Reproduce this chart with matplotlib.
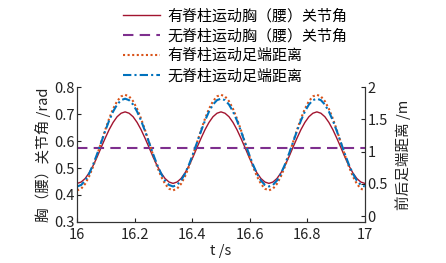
import numpy as np
import matplotlib
matplotlib.use("Agg")
import matplotlib.pyplot as plt

plt.rcParams['font.family'] = ['Noto Sans CJK SC', 'DejaVu Sans']

# time samples (s), 24 per gait period of 1/3 s
t = np.linspace(16, 17, 73)

# left axis: trunk (waist) joint angle, rad -- one period
angle_spine_period = [0.443, 0.448, 0.461, 0.482, 0.509, 0.541, 0.576, 0.610, 0.642, 0.669, 0.690, 0.703,
                      0.708, 0.703, 0.690, 0.669, 0.642, 0.610, 0.576, 0.541, 0.509, 0.482, 0.461, 0.448]
angle_spine = angle_spine_period * 3 + [0.443]
angle_nospine = [0.575] * 73

# right axis: front-rear foot distance, m
dist_spine_period = [0.40, 0.425, 0.50, 0.617, 0.77, 0.948, 1.14, 1.332, 1.51, 1.663, 1.781, 1.855,
                     1.88, 1.855, 1.781, 1.663, 1.51, 1.332, 1.14, 0.948, 0.77, 0.617, 0.50, 0.425]
dist_spine = dist_spine_period * 3 + [0.40]
dist_nospine_period = [0.46, 0.483, 0.551, 0.659, 0.80, 0.964, 1.14, 1.316, 1.48, 1.621, 1.729, 1.797,
                       1.82, 1.797, 1.729, 1.621, 1.48, 1.316, 1.14, 0.964, 0.80, 0.659, 0.551, 0.483]
dist_nospine = dist_nospine_period * 3 + [0.46]

labels = ['有脊柱运动胸（腰）关节角', '无脊柱运动胸（腰）关节角',
          '有脊柱运动足端距离', '无脊柱运动足端距离']

fig = plt.figure(figsize=(4.46, 2.63), dpi=100)
ax = fig.add_axes([0.173, 0.156, 0.645, 0.513])
ax2 = ax.twinx()

l1, = ax.plot(t, angle_spine, color='#A2142F', lw=1.0, label=labels[0])
l2, = ax.plot(t, angle_nospine, color='#7E2F8E', lw=1.5, ls=(0, (5, 3)), label=labels[1])
l3, = ax2.plot(t, dist_spine, color='#D95319', lw=1.5, ls=(0, (1, 1.2)), label=labels[2])
l4, = ax2.plot(t, dist_nospine, color='#0072BD', lw=1.5, ls=(0, (4, 1.5, 1, 1.5)), label=labels[3])

ax.set_xlim(16, 17)
ax.set_ylim(0.3, 0.8)
ax2.set_ylim(-0.09, 1.99)
ax.set_xticks([16, 16.2, 16.4, 16.6, 16.8, 17])
ax.set_xticklabels(['16', '16.2', '16.4', '16.6', '16.8', '17'])
ax.set_yticks([0.3, 0.4, 0.5, 0.6, 0.7, 0.8])
ax2.set_yticks([0, 0.5, 1, 1.5, 2])
ax2.set_yticklabels(['0', '0.5', '1', '1.5', '2'])

for a in (ax, ax2):
    a.spines['top'].set_visible(False)
    for s in a.spines.values():
        s.set_color('#333333')
        s.set_linewidth(0.8)
    a.tick_params(direction='in', length=3, width=0.8, labelsize=10.5, colors='#222222', pad=2)
ax.tick_params(axis='x', pad=4)

ax.set_xlabel('t /s', fontsize=10.5, color='#222222', labelpad=2)
ax.set_ylabel('胸（腰）关节角 /rad', fontsize=10.5, color='#222222', labelpad=2)
ax2.set_ylabel('前后足端距离 /m', fontsize=10.5, color='#222222', labelpad=5)

fig.legend([l1, l2, l3, l4], labels, loc='upper left', bbox_to_anchor=(0.262, 0.99),
           frameon=False, fontsize=10.8, handlelength=2.5, handletextpad=0.5,
           labelspacing=0.38, borderaxespad=0)

fig.savefig('out.png', dpi=100)
